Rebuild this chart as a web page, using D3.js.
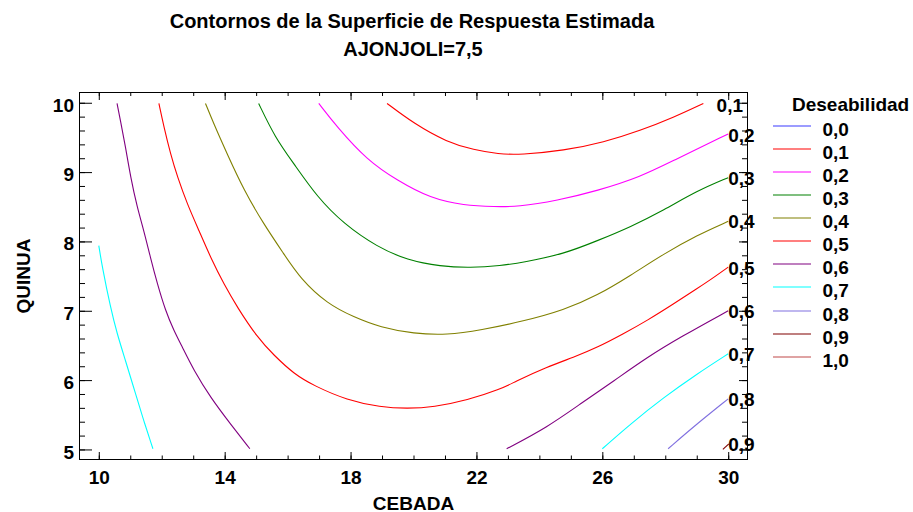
<!DOCTYPE html>
<html>
<head>
<meta charset="utf-8">
<script src="https://cdn.jsdelivr.net/npm/d3@7"></script>
<style>
  body { margin: 0; background: #fff; }
  svg { display: block; font-family: "Liberation Sans", Arial, sans-serif; font-weight: bold; }
</style>
</head>
<body>
<div id="chart"></div>
<script>
// contour levels and their colours (legend order)
const levels = [0.0, 0.1, 0.2, 0.3, 0.4, 0.5, 0.6, 0.7, 0.8, 0.9, 1.0];
const levelColors = ['#3a3aff', '#ff0000', '#ff00ff', '#008000', '#808000', '#ff0000',
                     '#800080', '#00ffff', '#8070e0', '#800000', '#c04848'];

// axis ticks
const xMajor = [10, 14, 18, 22, 26, 30];
const yMajor = [5, 6, 7, 8, 9, 10];

// contour lines, [CEBADA, QUINUA]
const line01 = [[19.16,9.99],[20.01,9.70],[21.07,9.43],[21.92,9.32],[22.70,9.26],[23.40,9.25],
                [24.78,9.31],[26.05,9.43],[27.21,9.60],[28.27,9.79],[29.21,9.99]];
const line02 = [[16.99,9.99],[17.57,9.65],[18.53,9.17],[19.48,8.88],[20.54,8.62],[21.60,8.52],
                [22.60,8.50],[23.30,8.50],[24.57,8.59],[25.84,8.73],[27.21,8.93],[28.27,9.17],[30.0,9.55]];
const line03 = [[15.08,9.99],[15.60,9.50],[16.20,9.12],[16.94,8.64],[17.79,8.25],[18.85,7.92],
                [19.80,7.73],[20.86,7.64],[21.81,7.62],[22.77,7.65],[23.50,7.70],[24.78,7.82],
                [25.84,8.01],[26.90,8.21],[27.95,8.45],[29.01,8.73],[30.0,8.92]];
const line04 = [[13.39,9.99],[13.65,9.70],[14.08,9.26],[14.61,8.74],[15.24,8.25],[15.88,7.82],
                [16.41,7.46],[17.26,7.10],[18.10,6.91],[18.95,6.76],[20.01,6.67],[21.07,6.65],
                [22.13,6.72],[23.50,6.85],[24.78,7.01],[25.84,7.22],[26.90,7.51],[27.95,7.82],
                [29.01,8.09],[30.0,8.29]];
const line05 = [[11.91,9.99],[12.07,9.65],[12.28,9.26],[12.50,8.93],[12.81,8.54],[13.18,8.16],
                [13.60,7.72],[13.97,7.39],[14.40,7.05],[15.03,6.62],[15.56,6.36],[16.20,6.09],
                [16.83,5.92],[17.89,5.71],[18.95,5.61],[19.80,5.59],[20.64,5.61],[21.71,5.71],
                [22.77,5.87],[23.19,5.97],[24.25,6.19],[25.09,6.33],[25.84,6.47],[26.68,6.67],
                [27.43,6.86],[28.27,7.10],[29.01,7.32],[29.54,7.48],[30.0,7.63]];
const line06a = [[10.58,9.99],[10.69,9.74],[10.85,9.36],[11.01,8.93],[11.22,8.49],[11.43,8.16],
                 [11.64,7.77],[11.86,7.39],[12.12,7.00],[12.38,6.72],[12.65,6.48],[13.02,6.14],
                 [13.55,5.75],[14.18,5.37],[14.80,5.01]];
const line06b = [[22.96,5.01],[24.25,5.32],[25.31,5.66],[26.37,5.99],[27.43,6.33],[28.48,6.62],[30.0,7.00]];
const line07a = [[10.0,7.94],[10.11,7.63],[10.37,7.05],[10.58,6.67],[10.85,6.28],[11.17,5.80],
                 [11.43,5.41],[11.72,5.01]];
const line07b = [[26.0,5.01],[26.90,5.37],[27.95,5.75],[29.01,6.09],[30.0,6.38]];
const line08 = [[28.09,5.01],[29.01,5.37],[30.0,5.73]];
const line09 = [[29.83,5.0],[30.02,5.08]];

const contourLines = [
  {level: 0.1, pts: line01}, {level: 0.2, pts: line02}, {level: 0.3, pts: line03},
  {level: 0.4, pts: line04}, {level: 0.5, pts: line05}, {level: 0.6, pts: line06a},
  {level: 0.6, pts: line06b}, {level: 0.7, pts: line07a}, {level: 0.7, pts: line07b},
  {level: 0.8, pts: line08}, {level: 0.9, pts: line09}
];

// where the level labels sit at the right edge
const labelLevels = [0.1, 0.2, 0.3, 0.4, 0.5, 0.6, 0.7, 0.8, 0.9];
const labelPoints = [[29.63,9.97],[30.0,9.55],[30.0,8.92],[30.0,8.30],[30.0,7.63],
                     [30.0,7.00],[30.0,6.38],[30.0,5.73],[30.0,5.08]];

(function(){
  const W = 913, H = 512;
  const L = 79.5, R = 747.5, T = 92.5, B = 459.5;
  const svg = d3.select('#chart').append('svg').attr('width', W).attr('height', H);
  svg.append('rect').attr('width', W).attr('height', H).attr('fill', '#fff');

  const x = d3.scaleLinear().domain([9.387, 30.613]).range([L, R]);
  const y = d3.scaleLinear().domain([4.855, 10.148]).range([B, T]);

  const comma = d3.formatLocale({decimal: ',', thousands: '.', grouping: [3], currency: ['', '']});
  const fmt1 = comma.format('.1f');
  const colorOf = lv => levelColors[levels.findIndex(l => Math.abs(l - lv) < 1e-9)];

  // title
  svg.append('text').attr('x', 412).attr('y', 28).attr('text-anchor', 'middle')
    .attr('font-size', 20).text('Contornos de la Superficie de Respuesta Estimada');
  svg.append('text').attr('x', 413).attr('y', 55.5).attr('text-anchor', 'middle')
    .attr('font-size', 20).text('AJONJOLI=7,5');

  // contours
  const line = d3.line().x(d => x(d[0])).y(d => y(d[1])).curve(d3.curveBasis);
  svg.append('g').selectAll('path').data(contourLines).join('path')
    .attr('d', d => line(d.pts))
    .attr('fill', 'none')
    .attr('stroke', d => colorOf(d.level))
    .attr('stroke-width', 1.1);

  // axes (ticks inside the frame)
  function styleAxis(g){
    g.select('.domain').remove();
    g.selectAll('.tick line').attr('stroke', '#000');
    g.selectAll('text').attr('fill', '#000').attr('font-size', 19)
      .attr('font-family', '"Liberation Sans", Arial, sans-serif').attr('font-weight', 'bold');
  }
  const xMinor = d3.range(10, 30.5, 1);
  const yMinor = d3.range(5, 10.01, 0.2);

  svg.append('g').attr('transform', `translate(0,${B - 0.5})`)
    .call(d3.axisBottom(x).tickValues(xMinor).tickSize(-3.5).tickFormat('')).call(styleAxis);
  svg.append('g').attr('transform', `translate(0,${B - 0.5})`)
    .call(d3.axisBottom(x).tickValues(xMajor).tickSize(-7).tickPadding(12).tickFormat(d3.format('d')))
    .call(styleAxis);
  svg.append('g').attr('transform', `translate(0,${T - 0.5})`)
    .call(d3.axisTop(x).tickValues(xMinor).tickSize(-4).tickFormat('')).call(styleAxis);
  svg.append('g').attr('transform', `translate(0,${T - 0.5})`)
    .call(d3.axisTop(x).tickValues(xMajor).tickSize(-8).tickFormat('')).call(styleAxis);

  svg.append('g').attr('transform', `translate(${L - 0.5},0)`)
    .call(d3.axisLeft(y).tickValues(yMinor).tickSize(-6).tickFormat('')).call(styleAxis);
  svg.append('g').attr('transform', `translate(${L - 0.5},0)`)
    .call(d3.axisLeft(y).tickValues(yMajor).tickSize(-13).tickPadding(5).tickFormat(d3.format('d')))
    .call(styleAxis)
    .call(g => g.selectAll('text').attr('dy', '0.45em'));
  svg.append('g').attr('transform', `translate(${R - 0.5},0)`)
    .call(d3.axisRight(y).tickValues(yMinor).tickSize(-5).tickFormat('')).call(styleAxis);
  svg.append('g').attr('transform', `translate(${R - 0.5},0)`)
    .call(d3.axisRight(y).tickValues(yMajor).tickSize(-8).tickFormat('')).call(styleAxis);

  // frame
  svg.append('rect').attr('x', L).attr('y', T).attr('width', R - L).attr('height', B - T)
    .attr('fill', 'none').attr('stroke', '#000').attr('stroke-width', 1);

  // level labels at the right edge
  svg.append('g').selectAll('text').data(labelLevels).join('text')
    .attr('x', (d, i) => x(labelPoints[i][0]))
    .attr('y', (d, i) => y(labelPoints[i][1]))
    .attr('dy', '0.4em')
    .attr('font-size', 19)
    .text(d => fmt1(d));

  // axis titles
  svg.append('text').attr('x', (L + R) / 2).attr('y', 509.5).attr('text-anchor', 'middle')
    .attr('font-size', 19).text('CEBADA');
  svg.append('text').attr('transform', `translate(30,${(T + B) / 2}) rotate(-90)`)
    .attr('text-anchor', 'middle').attr('font-size', 19).text('QUINUA');

  // legend
  const lg = svg.append('g');
  lg.append('text').attr('x', 792).attr('y', 111).attr('font-size', 19).text('Deseabilidad');
  const rowY = i => 126 + i * 23.07;
  lg.selectAll('line').data(levels).join('line')
    .attr('x1', 773).attr('x2', 811)
    .attr('y1', (d, i) => Math.round(rowY(i))).attr('y2', (d, i) => Math.round(rowY(i)))
    .attr('stroke', (d, i) => levelColors[i]).attr('stroke-width', 1.2);
  lg.selectAll('text.lab').data(levels).join('text').attr('class', 'lab')
    .attr('x', 822.5).attr('y', (d, i) => rowY(i) + 10)
    .attr('font-size', 19).text(d => fmt1(d));
})();
</script>
</body>
</html>
